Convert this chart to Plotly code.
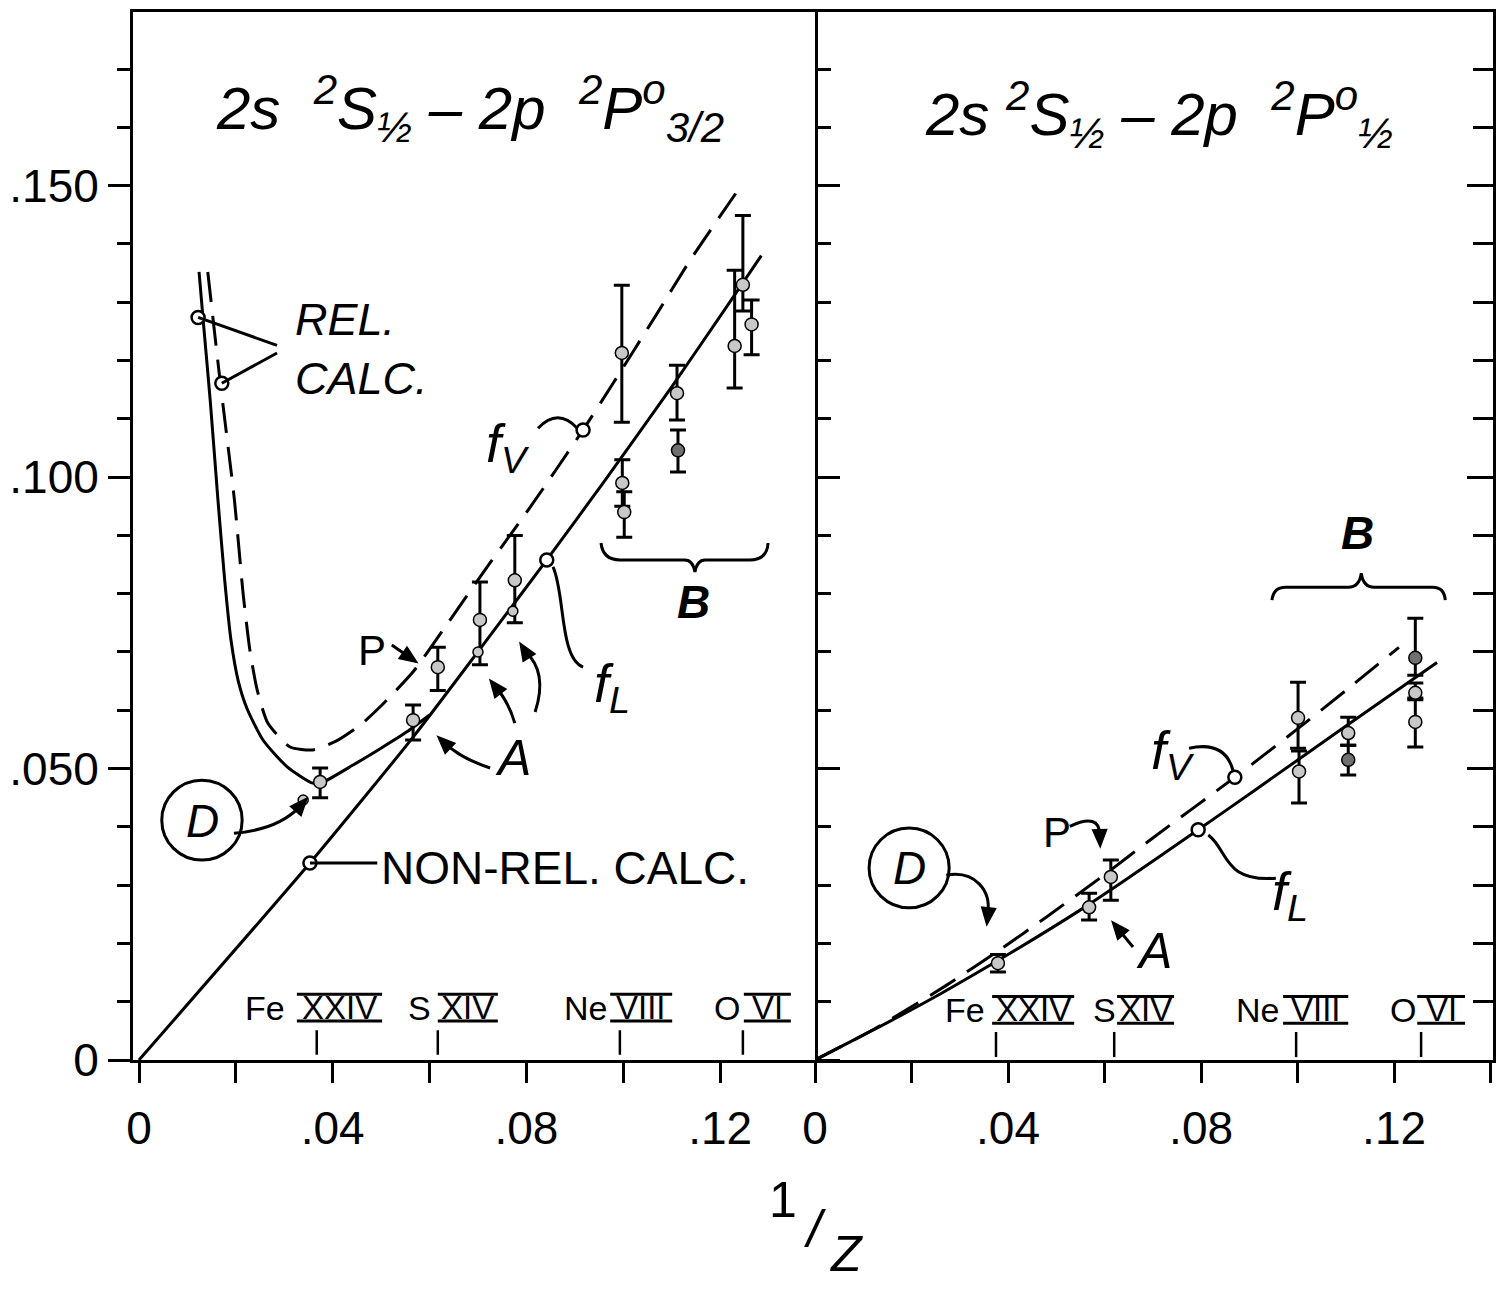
import math
import plotly.graph_objects as go

FONT = "Liberation Sans"
BLACK = "black"

# ---------------- data : left panel  2s 2S1/2 - 2p 2P°3/2 ----------------
# non-relativistic calculation (solid line, merges with rel. f_L)
L_nonrel_x = [0.0, 0.0353, 0.0566, 0.0704, 0.0842, 0.0960, 0.1100, 0.1214, 0.1285]
L_nonrel_y = [0.0, 0.0338, 0.0554, 0.0705, 0.0858, 0.0992, 0.1155, 0.1293, 0.1380]
# relativistic calculation, length form (solid)
L_relL_x = [0.0124, 0.0132, 0.0147, 0.0163, 0.0177, 0.0190, 0.0205, 0.0223, 0.0256, 0.0306,
            0.0359, 0.0380, 0.0442, 0.0498, 0.0553, 0.0600]
L_relL_y = [0.1352, 0.1274, 0.1132, 0.0961, 0.0823, 0.0720, 0.0650, 0.0603, 0.0549, 0.0503,
            0.0475, 0.0477, 0.0506, 0.0534, 0.0563, 0.0592]
# relativistic calculation, velocity form (dashed)
L_relV_x = [0.0142, 0.0168, 0.0197, 0.0215, 0.0229, 0.0244, 0.0266, 0.0312, 0.0359, 0.0409, 0.0456,
            0.0498, 0.0566, 0.0628, 0.0719, 0.0810, 0.0917, 0.0979, 0.1070, 0.1138, 0.1235]
L_relV_y = [0.1352, 0.1161, 0.0961, 0.0800, 0.0703, 0.0635, 0.0578, 0.0537, 0.0532, 0.0548, 0.0574,
            0.0606, 0.0666, 0.0738, 0.0846, 0.0951, 0.1081, 0.1161, 0.1281, 0.1372, 0.1490]
# calculated points (open circles)
L_calc_x = [0.0122, 0.0171, 0.0353, 0.0842, 0.0917]
L_calc_y = [0.1274, 0.1161, 0.0338, 0.0858, 0.1081]
# experimental points with error bars
L_exp_x = [0.0374, 0.0566, 0.0617, 0.0704, 0.0776, 0.0997, 0.0998, 0.1002, 0.1111, 0.1247, 0.1265, 0.1230]
L_exp_y = [0.0477, 0.0583, 0.0674, 0.0755, 0.0823, 0.1213, 0.0990, 0.0940, 0.1144, 0.1330, 0.1262, 0.1225]
L_exp_up = [0.0024, 0.0026, 0.0034, 0.0065, 0.0077, 0.0116, 0.0040, 0.0035, 0.0048, 0.0119, 0.0042, 0.0130]
L_exp_dn = [0.0027, 0.0034, 0.0040, 0.0077, 0.0073, 0.0119, 0.0040, 0.0043, 0.0046, 0.0045, 0.0052, 0.0072]
L_dark_x = [0.1113]
L_dark_y = [0.1046]
L_dark_up = [0.0035]
L_dark_dn = [0.0037]
L_small_x = [0.0339, 0.0700, 0.0772]
L_small_y = [0.0446, 0.0700, 0.0770]

# ---------------- data : right panel  2s 2S1/2 - 2p 2P°1/2 ----------------
R_fL_x = [0.0, 0.0145, 0.0263, 0.0398, 0.0551, 0.0640, 0.0794, 0.0910, 0.1090, 0.1225, 0.1289]
R_fL_y = [0.0, 0.0062, 0.0115, 0.0180, 0.0258, 0.0307, 0.0395, 0.0462, 0.0567, 0.0645, 0.0682]
R_fV_x = [0.0, 0.0120, 0.0272, 0.0388, 0.0479, 0.0600, 0.0700, 0.0870, 0.1000, 0.1100, 0.1210]
R_fV_y = [0.0, 0.0052, 0.0128, 0.0192, 0.0245, 0.0318, 0.0381, 0.0485, 0.0568, 0.0634, 0.0708]
R_calc_x = [0.0794, 0.0870]
R_calc_y = [0.0395, 0.0485]
R_exp_x = [0.0379, 0.0568, 0.0613, 0.1001, 0.1003, 0.1105, 0.1244, 0.1244]
R_exp_y = [0.0166, 0.0262, 0.0314, 0.0587, 0.0495, 0.0561, 0.0630, 0.0580]
R_exp_up = [0.0015, 0.0024, 0.0029, 0.0061, 0.0035, 0.0027, 0.0017, 0.0041]
R_exp_dn = [0.0015, 0.0022, 0.0040, 0.0052, 0.0054, 0.0021, 0.0012, 0.0043]
R_dark_x = [0.1105, 0.1244]
R_dark_y = [0.0515, 0.0690]
R_dark_up = [0.0025, 0.0068]
R_dark_dn = [0.0026, 0.0030]

# ---------------- ion labels ----------------
ion_sym = ["Fe", "S", "Ne", "O"]
ion_num = ["XXIV", "XIV", "VIII", "VI"]
L_sym_x = [0.0260, 0.0580, 0.0921, 0.1214]
L_num_x0 = [0.0326, 0.0617, 0.0973, 0.1249]
L_num_x1 = [0.0502, 0.0741, 0.1101, 0.1346]
L_ion_tick = [0.0367, 0.0617, 0.0993, 0.1247]
R_sym_x = [0.0311, 0.0599, 0.0916, 0.1219]
R_num_x0 = [0.0367, 0.0626, 0.0970, 0.1248]
R_num_x1 = [0.0537, 0.0744, 0.1105, 0.1347]
R_ion_tick = [0.0375, 0.0620, 0.0997, 0.1256]

# axis ticks
x_ticks = [0, 0.04, 0.08, 0.12]
x_text = ["0", ".04", ".08", ".12"]
y_ticks = [0, 0.05, 0.10, 0.15]
y_text = ["0", ".050", ".100", ".150"]

# ---------------- geometry ----------------
W, H = 1501, 1307
ML, MR, MT, MB = 133, 8, 12, 247
SPLIT = 0.5015
XR_L = [-0.00124, 0.1396]
XR_R = [0.0, 0.1405]
YR = [0.0, 0.1798]
PW, PH = W - ML - MR, H - MT - MB
SX_L = PW * SPLIT / (XR_L[1] - XR_L[0])
SX_R = PW * (1 - SPLIT) / (XR_R[1] - XR_R[0])
SY = PH / (YR[1] - YR[0])

fig = go.Figure()

def line_trace(x, y, ax, dash=None):
    fig.add_trace(go.Scatter(x=x, y=y, mode="lines", xaxis=ax[0], yaxis=ax[1],
                             line=dict(color=BLACK, width=3, dash=dash, shape="spline", smoothing=0.6),
                             hoverinfo="skip"))

def exp_trace(x, y, up, dn, ax, fill):
    fig.add_trace(go.Scatter(x=x, y=y, mode="markers", xaxis=ax[0], yaxis=ax[1],
                             marker=dict(size=13, color=fill, line=dict(color=BLACK, width=1.5)),
                             error_y=dict(type="data", symmetric=False, array=up, arrayminus=dn,
                                          color=BLACK, thickness=3, width=8)))

LA = ("x", "y")
RA = ("x2", "y2")
DASH = "30px,14px"

line_trace(L_nonrel_x, L_nonrel_y, LA)
line_trace(L_relL_x, L_relL_y, LA)
line_trace(L_relV_x, L_relV_y, LA, DASH)
exp_trace(L_exp_x, L_exp_y, L_exp_up, L_exp_dn, LA, "#c8c8c8")
exp_trace(L_dark_x, L_dark_y, L_dark_up, L_dark_dn, LA, "#707070")
fig.add_trace(go.Scatter(x=L_small_x, y=L_small_y, mode="markers", xaxis="x", yaxis="y",
                         marker=dict(size=10, color="#c8c8c8", line=dict(color=BLACK, width=1.5))))
fig.add_trace(go.Scatter(x=L_calc_x, y=L_calc_y, mode="markers", xaxis="x", yaxis="y",
                         marker=dict(size=13, color="white", line=dict(color=BLACK, width=2.5))))

line_trace(R_fL_x, R_fL_y, RA)
line_trace(R_fV_x, R_fV_y, RA, DASH)
exp_trace(R_exp_x, R_exp_y, R_exp_up, R_exp_dn, RA, "#c8c8c8")
exp_trace(R_dark_x, R_dark_y, R_dark_up, R_dark_dn, RA, "#707070")
fig.add_trace(go.Scatter(x=R_calc_x, y=R_calc_y, mode="markers", xaxis="x2", yaxis="y2",
                         marker=dict(size=13, color="white", line=dict(color=BLACK, width=2.5))))

# ---------------- annotations & decorations ----------------
ann = []
shapes = []

def txt(x, y, s, size, xref="x", yref="y", xanchor="center", yanchor="middle", align="center"):
    ann.append(dict(x=x, y=y, xref=xref, yref=yref, text=s, showarrow=False,
                    font=dict(family=FONT, size=size, color=BLACK),
                    xanchor=xanchor, yanchor=yanchor, align=align))

def path(d, xref="x", yref="y", width=3, fill=None):
    s = dict(type="path", path=d, xref=xref, yref=yref, line=dict(color=BLACK, width=width))
    if fill:
        s["fillcolor"] = fill
    shapes.append(s)

def seg(p0, p1, xref="x", yref="y", width=3):
    shapes.append(dict(type="line", x0=p0[0], y0=p0[1], x1=p1[0], y1=p1[1], xref=xref, yref=yref,
                       line=dict(color=BLACK, width=width)))

def head(tip, tail, xref="x", yref="y", L=17, Wd=7):
    sx = SX_L if xref == "x" else SX_R
    dx, dy = (tip[0] - tail[0]) * sx, (tip[1] - tail[1]) * SY
    n = math.hypot(dx, dy)
    ux, uy = dx / n, dy / n
    bx, by = -L * ux, -L * uy
    px, py = -uy * Wd, ux * Wd
    p2 = (tip[0] + (bx + px) / sx, tip[1] + (by + py) / SY)
    p3 = (tip[0] + (bx - px) / sx, tip[1] + (by - py) / SY)
    path(f"M {tip[0]},{tip[1]} L {p2[0]},{p2[1]} L {p3[0]},{p3[1]} Z", xref, yref, 1.5, BLACK)

def q(p0, c, p1):
    return f"M {p0[0]},{p0[1]} Q {c[0]},{c[1]} {p1[0]},{p1[1]}"

def cub(p0, c1, c2, p1):
    return f"M {p0[0]},{p0[1]} C {c1[0]},{c1[1]} {c2[0]},{c2[1]} {p1[0]},{p1[1]}"

# titles
txt(0.0683, 0.1632, "<i>2s  <sup>2</sup>S<sub>½</sub> – 2p  <sup>2</sup>P<sup>o</sup><sub>3/2</sub></i>", 60)
txt(0.0713, 0.1622, "<i>2s <sup>2</sup>S<sub>½</sub> – 2p  <sup>2</sup>P<sup>o</sup><sub>½</sub></i>", 60, "x2", "y2")

# --- left panel labels ---
txt(0.0318, 0.1220, "<i>REL.<br>CALC.</i>", 45, xanchor="left", align="left")
seg((0.0122, 0.1274), (0.0285, 0.1226))
seg((0.0171, 0.1161), (0.0285, 0.1213))
txt(0.0495, 0.0330, "NON-REL. CALC.", 46, xanchor="left")
seg((0.0353, 0.0338), (0.0492, 0.0338))
# circled D
shapes.append(dict(type="circle", xref="x", yref="y", x0=0.0047, x1=0.0213, y0=0.0343, y1=0.0480,
                   line=dict(color=BLACK, width=3)))
txt(0.0131, 0.0410, "<i>D</i>", 46)
path(q((0.0196, 0.0389), (0.0285, 0.0395), (0.0330, 0.0433)))
head((0.0347, 0.0449), (0.0330, 0.0433))
# P
txt(0.0481, 0.0703, "P", 42)
seg((0.0522, 0.0712), (0.0560, 0.0690))
head((0.0574, 0.0682), (0.0522, 0.0712))
# A
txt(0.0772, 0.0518, "<i>A</i>", 50)
path(q((0.0725, 0.0501), (0.0663, 0.0518), (0.0630, 0.0545)))
head((0.0617, 0.0555), (0.0632, 0.0543))
path(q((0.0776, 0.0578), (0.0762, 0.0617), (0.0735, 0.0641)))
head((0.0725, 0.0652), (0.0737, 0.0639))
path(q((0.0818, 0.0597), (0.0845, 0.0666), (0.0797, 0.0701)))
head((0.0787, 0.0715), (0.0799, 0.0699))
# f_V, f_L
txt(0.0762, 0.1052, "<i>f<sub>V</sub></i>", 54)
path(q((0.0824, 0.1084), (0.0865, 0.1120), (0.0905, 0.1084)))
txt(0.0977, 0.0640, "<i>f<sub>L</sub></i>", 54)
path(cub((0.0855, 0.0846), (0.0880, 0.0800), (0.0868, 0.0690), (0.0917, 0.0674)))
# brace B (left)
path("M 0.0954,0.0887 Q 0.0958,0.0858 0.0993,0.0858 L 0.1127,0.0858 Q 0.1144,0.0858 0.1148,0.0837 "
     "Q 0.1152,0.0858 0.1169,0.0858 L 0.1262,0.0858 Q 0.1297,0.0858 0.1299,0.0887")
txt(0.1144, 0.0786, "<i><b>B</b></i>", 46)

# --- right panel labels ---
shapes.append(dict(type="circle", xref="x2", yref="y2", x0=0.0112, x1=0.0278, y0=0.0261, y1=0.0398,
                   line=dict(color=BLACK, width=3)))
txt(0.0195, 0.0329, "<i>D</i>", 46, "x2", "y2")
path(cub((0.0272, 0.0317), (0.0332, 0.0326), (0.0365, 0.0290), (0.0358, 0.0252)), "x2", "y2")
head((0.0356, 0.0232), (0.0359, 0.0255), "x2", "y2")
txt(0.0502, 0.0391, "P", 42, "x2", "y2")
path(q((0.0528, 0.0401), (0.0590, 0.0425), (0.0590, 0.0386)), "x2", "y2")
head((0.0591, 0.0366), (0.0590, 0.0390), "x2", "y2")
txt(0.0703, 0.0187, "<i>A</i>", 50, "x2", "y2")
seg((0.0659, 0.0194), (0.0628, 0.0225), "x2", "y2")
head((0.0616, 0.0237), (0.0659, 0.0194), "x2", "y2")
txt(0.0742, 0.0525, "<i>f<sub>V</sub></i>", 54, "x2", "y2")
path(q((0.0775, 0.0535), (0.0850, 0.0548), (0.0866, 0.0497)), "x2", "y2")
txt(0.0984, 0.0283, "<i>f<sub>L</sub></i>", 54, "x2", "y2")
path(cub((0.0815, 0.0386), (0.0857, 0.0360), (0.0845, 0.0305), (0.0955, 0.0312)), "x2", "y2")
path("M 0.0947,0.0789 Q 0.0950,0.0811 0.0975,0.0811 L 0.1105,0.0811 Q 0.1128,0.0811 0.1132,0.0835 "
     "Q 0.1136,0.0811 0.1159,0.0811 L 0.1280,0.0811 Q 0.1304,0.0811 0.1306,0.0789", "x2", "y2")
txt(0.1125, 0.0904, "<i><b>B</b></i>", 46, "x2", "y2")

# --- ion labels with barred roman numerals ---
def ions(sym_x, n0, n1, ticks, yc, t0, t1, xref, yref):
    for s, sx, a, b, tk, num in zip(ion_sym, sym_x, n0, n1, ticks, ion_num):
        txt(sx, yc, s, 34, xref, yref)
        txt((a + b) / 2, yc, num, 33, xref, yref)
        seg((a, yc + 0.0023), (b, yc + 0.0023), xref, yref, 3)
        seg((a, yc - 0.0023), (b, yc - 0.0023), xref, yref, 3)
        seg((tk, t0), (tk, t1), xref, yref, 2.5)

ions(L_sym_x, L_num_x0, L_num_x1, L_ion_tick, 0.0090, 0.0051, 0.0009, "x", "y")
ions(R_sym_x, R_num_x0, R_num_x1, R_ion_tick, 0.0086, 0.0048, 0.0005, "x2", "y2")

# axis title 1/Z
ann.append(dict(x=0.4779, y=-0.1622, xref="paper", yref="paper", text="1", showarrow=False,
                font=dict(family=FONT, size=50, color=BLACK)))
ann.append(dict(x=0.5015, y=-0.1908, xref="paper", yref="paper", text="<i>/</i>", showarrow=False,
                font=dict(family=FONT, size=52, color=BLACK)))
ann.append(dict(x=0.5243, y=-0.2137, xref="paper", yref="paper", text="<i>Z</i>", showarrow=False,
                font=dict(family=FONT, size=50, color=BLACK)))

tickfont = dict(family=FONT, size=46, color=BLACK)
common = dict(showgrid=False, zeroline=False, showline=True, linewidth=3, linecolor=BLACK,
              tickcolor=BLACK, automargin=False)
xminor = dict(dtick=0.02, tick0=0, ticks="outside", ticklen=20, tickwidth=3, tickcolor=BLACK)

fig.update_layout(
    width=W, height=H, template="none",
    margin=dict(l=ML, r=MR, t=MT, b=MB),
    paper_bgcolor="white", plot_bgcolor="white", showlegend=False,
    xaxis=dict(domain=[0, SPLIT], range=XR_L, tickmode="array",
               tickvals=x_ticks, ticktext=x_text, ticks="outside", ticklen=20, tickwidth=3,
               minor=xminor, mirror=True, tickfont=tickfont, ticklabelstandoff=6, **common),
    xaxis2=dict(domain=[SPLIT, 1], range=XR_R, anchor="y2", tickmode="array",
                tickvals=x_ticks, ticktext=x_text, ticks="outside", ticklen=20, tickwidth=3,
                minor=xminor, mirror=True, tickfont=tickfont, ticklabelstandoff=6, **common),
    yaxis=dict(domain=[0, 1], range=YR, tickmode="array", tickvals=y_ticks, ticktext=y_text,
               ticks="outside", ticklen=22, tickwidth=3, mirror="ticks", tickfont=tickfont,
               minor=dict(dtick=0.01, tick0=0, ticks="outside", ticklen=13, tickwidth=2.5, tickcolor=BLACK),
               **common),
    yaxis2=dict(domain=[0, 1], range=YR, anchor="x2", side="right", tickmode="array",
                tickvals=y_ticks, showticklabels=False, ticks="inside", ticklen=26, tickwidth=3,
                minor=dict(dtick=0.01, tick0=0, ticks="inside", ticklen=20, tickwidth=2.5, tickcolor=BLACK),
                **common),
    annotations=ann, shapes=shapes,
)

fig.write_html("out.html")
